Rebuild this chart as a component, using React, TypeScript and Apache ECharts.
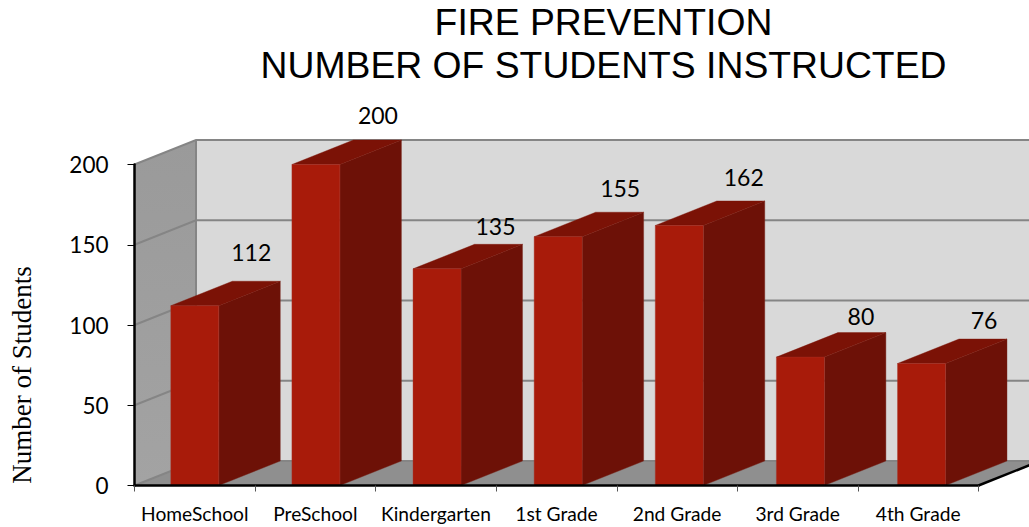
import React, { useEffect, useRef } from "react";
import * as echarts from "echarts";

const titleLines = ["FIRE PREVENTION", "NUMBER OF STUDENTS INSTRUCTED"];
const yAxisTitle = "Number of Students";
const categories = ["HomeSchool", "PreSchool", "Kindergarten", "1st Grade", "2nd Grade", "3rd Grade", "4th Grade"];
const students = [112, 200, 135, 155, 162, 80, 76];
const yTicks = [0, 50, 100, 150, 200];

// hand-placed value labels: shift from the bar's back-top centre, in pixels
const labelShiftX = [-5, 0.5, -3, 0.5, 3, -1, 1];
const labelShiftY = [-29, -25, -18, -24, -24, -17, -19];

const DX = 61.5;
const DY = -24.5;
const BAR_W = 48;
const BAR_DRIFT = 0.55; // the bars sit on a slightly wider pitch than the axis ticks

const EDGE = "#858585";

function renderRoom(params: any, api: any) {
  const cs = params.coordSys;
  const l = cs.x, r = cs.x + cs.width, t = cs.y, b = cs.y + cs.height;
  const children: any[] = [
    { type: "polygon", shape: { points: [[l + DX, t + DY], [r + DX, t + DY], [r + DX, b + DY], [l + DX, b + DY]] }, style: { fill: "#d9d9d9" } },
    { type: "polygon", shape: { points: [[l, t], [l + DX, t + DY], [l + DX, b + DY], [l, b]] },
      style: { fill: new echarts.graphic.LinearGradient(0, 0, 0, 1, [{ offset: 0, color: "#9a9a9a" }, { offset: 1, color: "#a3a3a3" }]) } },
    { type: "polygon", shape: { points: [[l, b], [l + DX, b + DY], [r + DX, b + DY], [r, b]] }, style: { fill: "#8f8f8f" } },
  ];
  yTicks.forEach((v) => {
    const y = api.coord([0, v])[1];
    children.push({ type: "polyline", shape: { points: [[l, y], [l + DX, y + DY], [r + DX, y + DY]] }, style: { stroke: EDGE, lineWidth: 2, fill: "none" } });
  });
  children.push({ type: "line", shape: { x1: l + DX, y1: t + DY, x2: l + DX, y2: b + DY }, style: { stroke: EDGE, lineWidth: 2 } });
  children.push({ type: "line", shape: { x1: r, y1: b, x2: r + DX, y2: b + DY }, style: { stroke: "#000000", lineWidth: 2.5 } });
  return { type: "group", children };
}

function renderBar(params: any, api: any) {
  const i = api.value(0);
  const v = api.value(1);
  const [cx0, top] = api.coord([i, v]);
  const [, base] = api.coord([i, 0]);
  const cx = cx0 + BAR_DRIFT * i;
  const x0 = cx - BAR_W / 2, x1 = cx + BAR_W / 2;
  return {
    type: "group",
    children: [
      { type: "polygon", shape: { points: [[x1, top], [x1 + DX, top + DY], [x1 + DX, base + DY], [x1, base]] }, style: { fill: "#6d1107", stroke: "#7a2a20", lineWidth: 0.4 } },
      { type: "polygon", shape: { points: [[x0, top], [x0 + DX, top + DY], [x1 + DX, top + DY], [x1, top]] }, style: { fill: "#7b1206", stroke: "#7b1206", lineWidth: 0.4 } },
      { type: "rect", shape: { x: x0, y: top, width: BAR_W, height: base - top }, style: { fill: "#a81b0a", stroke: "#a8352a", lineWidth: 0.4 } },
      {
        type: "text",
        x: cx + DX + labelShiftX[i],
        y: top + DY + labelShiftY[i],
        style: { text: String(v), fill: "#000000", font: "23px Lato", textAlign: "center", textVerticalAlign: "middle" },
      },
    ],
  };
}

export default function App() {
  const ref = useRef<HTMLDivElement>(null);
  useEffect(() => {
    document.body.style.margin = "0";
    const chart = echarts.init(ref.current!, undefined, { renderer: "svg" });
    chart.setOption({
      animation: false,
      backgroundColor: "#ffffff",
      title: {
        text: titleLines.join("\n"),
        left: 598.5,
        top: -4.5,
        textAlign: "center",
        textStyle: { fontFamily: "Liberation Sans", fontSize: 37.3, fontWeight: "normal", color: "#000000", lineHeight: 43 },
      },
      graphic: [
        {
          type: "text",
          x: 22,
          y: 375,
          rotation: Math.PI / 2,
          style: { text: yAxisTitle, font: "27px 'Liberation Serif'", fill: "#000000", textAlign: "center", textVerticalAlign: "middle" },
        },
      ],
      grid: { left: 134.5, top: 164.5, width: 844, height: 321, containLabel: false },
      xAxis: {
        type: "category",
        data: categories,
        z: 5,
        axisLine: { lineStyle: { color: "#000000", width: 2.5 } },
        axisTick: { show: true, alignWithLabel: false, length: 6, lineStyle: { color: "#555555", width: 1 } },
        axisLabel: { margin: 18, fontFamily: "Lato", fontSize: 19.2, color: "#000000", interval: 0 },
      },
      yAxis: {
        type: "value",
        min: 0,
        max: 200,
        interval: 50,
        z: 5,
        splitLine: { show: false },
        axisLine: { show: true, lineStyle: { color: "#000000", width: 2.5 } },
        axisTick: { show: true, length: 7, lineStyle: { color: "#000000", width: 1 } },
        axisLabel: { margin: 26, fontFamily: "Lato", fontSize: 22.5, color: "#000000" },
      },
      series: [
        { type: "custom", silent: true, clip: false, data: [[0, 0]], renderItem: renderRoom, z: 1 },
        { type: "custom", silent: true, clip: false, data: students.map((v, i) => [i, v]), encode: { x: 0, y: 1 }, renderItem: renderBar, z: 2 },
      ],
    });
    return () => chart.dispose();
  }, []);
  return <div ref={ref} style={{ position: "fixed", left: 0, top: 0, width: 1029, height: 527 }} />;
}
